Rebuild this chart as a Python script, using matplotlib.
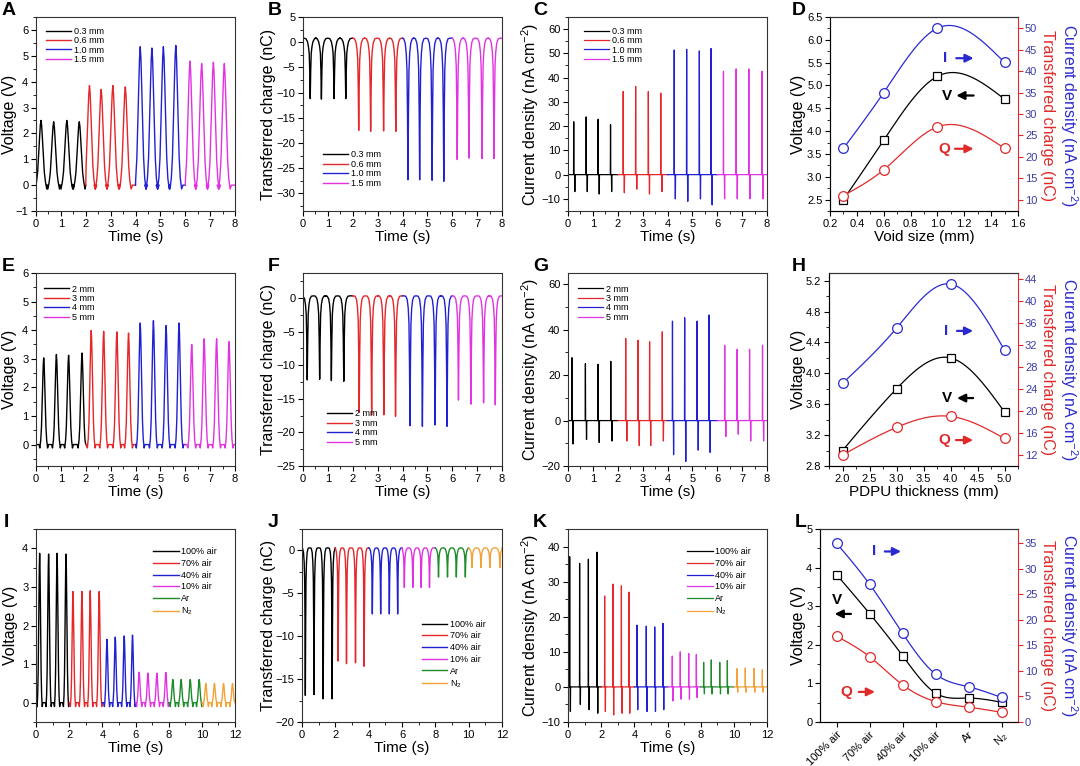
import numpy as np
import matplotlib
matplotlib.use("Agg")
import matplotlib.pyplot as plt
from matplotlib.ticker import MultipleLocator, AutoMinorLocator, FormatStrFormatter

# ---------------- data ----------------
void_labels = ["0.3 mm", "0.6 mm", "1.0 mm", "1.5 mm"]
thick_labels = ["2 mm", "3 mm", "4 mm", "5 mm"]
gas_labels = ["100% air", "70% air", "40% air", "10% air", "Ar", "N$_2$"]

# A: voltage peaks (time s, height V)
a_t = [[0.2, 0.71, 1.24, 1.74], [2.15, 2.62, 3.09, 3.59], [4.19, 4.66, 5.12, 5.62], [6.19, 6.66, 7.13, 7.57]]
a_v = [[2.5, 2.45, 2.5, 2.45], [3.85, 3.7, 3.85, 3.8], [5.35, 5.3, 5.35, 5.4], [4.8, 4.7, 4.75, 4.7]]
# B: transferred charge dips (nC)
b_t = [[0.29, 0.74, 1.25, 1.72], [2.24, 2.72, 3.24, 3.73], [4.22, 4.69, 5.19, 5.66], [6.2, 6.67, 7.2, 7.68]]
b_q = [[11.2, 11.3, 11.2, 11.2], [17.5, 17.7, 17.6, 17.7], [27.3, 27.3, 27.4, 27.6], [23.3, 23.0, 23.1, 23.1]]
# C: current density spikes (nA cm-2)
c_t = [[0.23, 0.73, 1.21, 1.71], [2.22, 2.72, 3.23, 3.73], [4.27, 4.77, 5.28, 5.75], [6.25, 6.76, 7.27, 7.8]]
c_pos = [[21.8, 23.8, 22.8, 20.6], [34.3, 36.4, 34.3, 33.6], [51.4, 51.7, 51.0, 52.0], [42.6, 43.6, 43.6, 42.6]]
c_neg = [[7, 7, 8, 7], [7.5, 6, 8, 7], [10, 11, 10, 12.5], [10, 10, 10, 10]]
# D
void_size = [0.3, 0.6, 1.0, 1.5]
d_voltage = [2.5, 3.8, 5.2, 4.7]
d_current = [22, 35, 50, 42]
d_charge = [11, 17, 27, 22]

# E
e_t = [[0.31, 0.82, 1.31, 1.85], [2.22, 2.72, 3.25, 3.72], [4.19, 4.72, 5.23, 5.75], [6.26, 6.76, 7.26, 7.76]]
e_v = [[3.03, 3.15, 3.12, 3.2], [3.99, 3.96, 3.94, 3.9], [4.25, 4.33, 4.16, 4.25], [3.5, 3.7, 3.7, 3.6]]
# F
f_t = [[0.17, 0.67, 1.14, 1.64], [2.26, 2.76, 3.25, 3.72], [4.3, 4.8, 5.31, 5.79], [6.25, 6.75, 7.26, 7.73]]
f_q = [[12.2, 12.1, 12.3, 12.4], [17.0, 17.4, 17.4, 17.6], [19.0, 19.1, 18.9, 19.1], [15.2, 15.8, 15.6, 15.9]]
# G
g_t = [[0.16, 0.7, 1.21, 1.72], [2.32, 2.82, 3.28, 3.79], [4.2, 4.69, 5.19, 5.67], [6.3, 6.8, 7.3, 7.82]]
g_pos = [[27.7, 25.1, 24.8, 26.1], [36.1, 35.4, 34.7, 39.1], [43.8, 45.3, 43.8, 46.5], [33.2, 31.4, 31.4, 33.2]]
g_neg = [[10.3, 8.3, 9.6, 9], [9, 11, 11, 9], [15, 18, 13, 14], [7, 6, 9, 9]]
# H
thickness = [2.0, 3.0, 4.0, 5.0]
h_voltage = [3.0, 3.8, 4.2, 3.5]
h_current = [25, 35, 43, 31]
h_charge = [12, 17, 19, 15]

# I
i_t = [[0.22, 0.76, 1.27, 1.81], [2.23, 2.77, 3.27, 3.81], [4.28, 4.78, 5.32, 5.82],
       [6.22, 6.75, 7.29, 7.83], [8.25, 8.75, 9.3, 9.84], [10.24, 10.76, 11.31, 11.85]]
i_v = [[3.87, 3.85, 3.87, 3.85], [2.88, 2.88, 2.9, 2.88], [1.64, 1.7, 1.73, 1.75],
       [0.79, 0.77, 0.76, 0.78], [0.6, 0.6, 0.6, 0.6], [0.5, 0.5, 0.5, 0.5]]
# J
j_t = [[0.2, 0.72, 1.27, 1.81], [2.17, 2.67, 3.21, 3.73], [4.22, 4.72, 5.24, 5.74],
       [6.14, 6.65, 7.15, 7.65], [8.19, 8.73, 9.26, 9.8], [10.2, 10.74, 11.27, 11.87]]
j_q = [[16.9, 16.8, 17.3, 17.3], [12.9, 13.2, 13.1, 13.5], [7.4, 7.4, 7.4, 7.4],
       [4.3, 4.3, 4.3, 4.3], [3.1, 3.1, 3.1, 3.1], [2.0, 2.0, 2.0, 2.0]]
# K
k_t = [[0.1, 0.7, 1.23, 1.75], [2.21, 2.71, 3.22, 3.68], [4.16, 4.72, 5.23, 5.73],
       [6.29, 6.77, 7.28, 7.74], [8.18, 8.64, 9.15, 9.61], [10.19, 10.69, 11.22, 11.72]]
k_pos = [[37.1, 35.2, 36.4, 38.4], [25.9, 29.3, 28.8, 27.0], [17.6, 17.3, 17.1, 18.1],
         [8.8, 10.0, 9.5, 9.2], [7.0, 7.7, 7.0, 7.5], [5.2, 5.4, 5.3, 4.9]]
k_neg = [[7, 5, 6.5, 7.5], [7, 8, 7.5, 7.5], [6.5, 7, 7, 6.5], [4, 3.5, 3.5, 3], [2, 2, 2, 2], [1.5, 1.5, 1.5, 1.5]]
# L
l_voltage = [3.82, 2.81, 1.72, 0.75, 0.62, 0.51]
l_current = [35, 27, 17.4, 9.4, 6.9, 4.8]
l_charge = [16.8, 12.8, 7.3, 4.0, 2.9, 1.9]

v_dt = [-1.6, -1.3, -1.0, -0.75, -0.5, -0.3, -0.15, 0, 0.15, 0.3, 0.5, 0.75, 1.0, 1.3, 1.6]
v_shape = [0, 0, 0.05, 0.2, 0.5, 0.75, 0.92, 1, 0.92, 0.75, 0.5, 0.2, 0.05, 0, 0]
v_dip = [0, -1, 0, 0, 0, 0, 0, 0, 0, 0, 0, 0, 0, -1, 0]
q_dt = [-0.25, -0.17, -0.11, -0.07, -0.04, -0.02, 0, 0.02, 0.04, 0.07, 0.11, 0.17, 0.25]
q_shape = [0, 0, 0.02, 0.08, 0.2, 0.5, 1, 0.5, 0.2, 0.08, 0.02, 0, 0]
q_arch = [1, 0.85, 0.4, 0, 0, 0, 0, 0, 0, 0, 0.4, 0.85, 1]
i_dt = [-0.04, -0.008, 0, 0.008, 0.025, 0.035, 0.045, 0.055, 0.08]
i_up = [0, 0, 1, 0, 0, 0, 0, 0, 0]
i_down = [0, 0, 0, 0, 0, 0, 1, 0, 0]

colors = ["black", "#e5262a", "#2121d2", "#e233e2", "#1e8c2a", "#f2a33a"]
blue = "#2a2ad0"
red = "#e02a2a"

W, H = 1080, 766
plt.rcParams["font.family"] = ["Liberation Sans", "DejaVu Sans"]
plt.rcParams["axes.linewidth"] = 0.8
plt.rcParams["mathtext.default"] = "regular"

fig = plt.figure(figsize=(W / 100, H / 100), dpi=100)


def rect(l, t, r, b):
    return [l / W, 1 - b / H, (r - l) / W, (b - t) / H]


def train(times, parts, t0, t1, dt, width):
    # parts: list of (amplitudes, shape) summed for every pulse
    xs, ys = [t0], [parts[-1][0][0] * parts[-1][1][0]]
    for k, t in enumerate(times):
        xs.extend(t + width * np.asarray(dt))
        y = np.zeros(len(dt))
        for amps, shape in parts:
            y = y + amps[k] * np.asarray(shape)
        ys.extend(y)
    xs.append(t1)
    ys.append(ys[0])
    xs, ys = np.asarray(xs), np.asarray(ys)
    keep = (xs >= t0) & (xs <= t1)
    return xs[keep], ys[keep]


def spline(x, y, n=120):
    x = np.asarray(x, float)
    y = np.asarray(y, float)
    m = len(x)
    h = np.diff(x)
    A = np.zeros((m, m))
    r = np.zeros(m)
    A[0, 0] = A[-1, -1] = 1
    for i in range(1, m - 1):
        A[i, i - 1], A[i, i], A[i, i + 1] = h[i - 1], 2 * (h[i - 1] + h[i]), h[i]
        r[i] = 3 * ((y[i + 1] - y[i]) / h[i] - (y[i] - y[i - 1]) / h[i - 1])
    c = np.linalg.solve(A, r)
    b = (y[1:] - y[:-1]) / h - h * (2 * c[:-1] + c[1:]) / 3
    d = (c[1:] - c[:-1]) / (3 * h)
    xs = np.linspace(x[0], x[-1], n)
    k = np.clip(np.searchsorted(x, xs) - 1, 0, m - 2)
    dx = xs - x[k]
    return xs, y[k] + b[k] * dx + c[k] * dx ** 2 + d[k] * dx ** 3


def style(ax, xlim, ylim, xmaj, ymaj, xlabel, ylabel, label_x):
    ax.set_xlim(*xlim)
    ax.set_ylim(*ylim)
    ax.xaxis.set_major_locator(MultipleLocator(xmaj))
    ax.yaxis.set_major_locator(MultipleLocator(ymaj))
    ax.xaxis.set_minor_locator(AutoMinorLocator(2))
    ax.yaxis.set_minor_locator(AutoMinorLocator(2))
    ax.tick_params(which="both", direction="out", top=False, right=False, labelsize=8, pad=2)
    ax.tick_params(which="major", length=3.5, width=0.8)
    ax.tick_params(which="minor", length=2, width=0.6)
    for s in ax.spines.values():
        s.set_color("#333333")
    ax.set_xlabel(xlabel, fontsize=11, labelpad=1)
    ax.set_ylabel(ylabel, fontsize=11.5, va="center")
    # label centre in figure pixels -> axes fraction
    l = ax.get_position().x0 * W
    w = ax.get_position().width * W
    ax.yaxis.set_label_coords((label_x - l) / w, 0.5)


def letter(x, y, s):
    fig.text(x / W, 1 - y / H, s, fontsize=14, fontweight="bold", va="top", ha="left")


def volt_panel(ax, times, peaks, labels, width, dip):
    for i, (tt, pp) in enumerate(zip(times, peaks)):
        dips = [dip] * len(tt)
        x, y = train(tt, [(pp, v_shape), (dips, v_dip)], 2 * i, 2 * i + 2, v_dt, width)
        ax.plot(x, y, color=colors[i], lw=1.0, label=labels[i])


def charge_panel(ax, times, depths, labels, hump):
    for i, (tt, dd) in enumerate(zip(times, depths)):
        neg = [-v for v in dd]
        humps = [hump] * len(tt)
        x, y = train(tt, [(neg, q_shape), (humps, q_arch)], 2 * i, 2 * i + 2, q_dt, 1.0)
        ax.plot(x, y, color=colors[i], lw=1.0, label=labels[i])


def current_panel(ax, times, ups, downs, labels):
    for i, tt in enumerate(times):
        neg = [-v for v in downs[i]]
        x, y = train(tt, [(ups[i], i_up), (neg, i_down)], 2 * i, 2 * i + 2, i_dt, 1.0)
        ax.plot(x, y, color=colors[i], lw=0.9, label=labels[i])


def legend(ax, loc, anchor, spacing):
    ax.legend(loc=loc, bbox_to_anchor=anchor, frameon=False, fontsize=6.5, handlelength=2.8,
              handletextpad=0.3, labelspacing=spacing, borderpad=0, borderaxespad=0)


def summary_panel(ax, x, volt, cur, chg, right_lim, right_step, fmt):
    ax2 = ax.twinx()
    xs, ys = spline(x, volt)
    ax.plot(xs, ys, color="black", lw=0.9)
    ax.plot(x, volt, "s", mfc="white", mec="black", ms=6, mew=0.9)
    xs, ys = spline(x, cur)
    ax2.plot(xs, ys, color=blue, lw=0.9)
    ax2.plot(x, cur, "o", mfc="white", mec=blue, ms=7, mew=0.9)
    xs, ys = spline(x, chg)
    ax2.plot(xs, ys, color=red, lw=0.9)
    ax2.plot(x, chg, "o", mfc="white", mec=red, ms=7, mew=0.9)
    ax2.set_ylim(*right_lim)
    ax2.yaxis.set_major_locator(MultipleLocator(right_step))
    ax2.tick_params(axis="y", colors=red, labelcolor="#3c3ca8", labelsize=8, length=3.5, pad=1.5)
    ax2.spines["right"].set_color(red)
    ax2.spines["top"].set_color("#333333")
    ax.spines["right"].set_visible(False)
    ax.yaxis.set_major_formatter(FormatStrFormatter(fmt))
    return ax2


def arrow(ax, y, x0, x1, color):
    ax.annotate("", xy=(x1, y), xytext=(x0, y),
                arrowprops=dict(arrowstyle="-|>", color=color, lw=1.6, mutation_scale=12))


def arrow_label(ax, s, xt, y, x0, x1, color):
    ax.text(xt, y, s, color=color, fontsize=11, fontweight="bold", ha="center", va="center")
    arrow(ax, y, x0, x1, color)


def right_labels(yc):
    fig.text(1069 / W, 1 - yc / H, "Current density (nA cm$^{-2}$)", color=blue, fontsize=11.5,
             rotation=270, ha="center", va="center")
    fig.text(1047 / W, 1 - yc / H, "Transferred charge (nC)", color=red, fontsize=11.5,
             rotation=270, ha="center", va="center")


# ---------------- row 1 ----------------
ax = fig.add_axes(rect(36, 17, 235, 211))
volt_panel(ax, a_t, a_v, void_labels, 0.18, 0.15)
style(ax, (0, 8), (-1, 6.5), 1, 1, "Time (s)", "Voltage (V)", 10)
legend(ax, "upper left", (0.05, 0.95), 0.05)
letter(2, 2, "A")

ax = fig.add_axes(rect(303, 17, 502, 211))
charge_panel(ax, b_t, b_q, void_labels, 0.8)
style(ax, (0, 8), (-33.5, 5), 1, 5, "Time (s)", "Transferred charge (nC)", 268)
legend(ax, "lower left", (0.1, 0.12), 0.05)
letter(268, 2, "B")

ax = fig.add_axes(rect(568, 17, 767, 211))
current_panel(ax, c_t, c_pos, c_neg, void_labels)
style(ax, (0, 8), (-15, 65), 1, 10, "Time (s)", "Current density (nA cm$^{-2}$)", 530)
legend(ax, "upper left", (0.08, 0.95), 0.05)
letter(533, 2, "C")

ax = fig.add_axes(rect(830, 17, 1018, 211))
style(ax, (0.2, 1.6), (2.25, 6.5), 0.2, 0.5, "Void size (mm)", "Voltage (V)", 798)
ax2 = summary_panel(ax, void_size, d_voltage, d_current, d_charge, (7.4, 52.6), 5, "%.1f")
arrow_label(ax2, "I", 1.06, 43, 1.12, 1.29, blue)
arrow_label(ax, "V", 1.07, 4.78, 1.29, 1.12, "black")
arrow_label(ax2, "Q", 1.05, 21.9, 1.11, 1.29, red)
right_labels(116)
letter(792, 2, "D")

# ---------------- row 2 ----------------
ax = fig.add_axes(rect(36, 273, 235, 466))
volt_panel(ax, e_t, e_v, thick_labels, 0.12, 0.12)
style(ax, (0, 8), (-0.75, 6), 1, 1, "Time (s)", "Voltage (V)", 10)
legend(ax, "upper left", (0.04, 0.94), 0.05)
letter(2, 258, "E")

ax = fig.add_axes(rect(303, 273, 502, 466))
charge_panel(ax, f_t, f_q, thick_labels, 0.3)
style(ax, (0, 8), (-25, 3.7), 1, 5, "Time (s)", "Transferred charge (nC)", 268)
legend(ax, "lower left", (0.12, 0.1), 0.05)
letter(268, 258, "F")

ax = fig.add_axes(rect(568, 273, 767, 466))
current_panel(ax, g_t, g_pos, g_neg, thick_labels)
style(ax, (0, 8), (-20, 65), 1, 20, "Time (s)", "Current density (nA cm$^{-2}$)", 530)
legend(ax, "upper left", (0.05, 0.94), 0.05)
letter(533, 258, "G")

ax = fig.add_axes(rect(829, 273, 1018, 466))
style(ax, (1.75, 5.25), (2.8, 5.3), 0.5, 0.4, "PDPU thickness (mm)", "Voltage (V)", 798)
ax2 = summary_panel(ax, thickness, h_voltage, h_current, h_charge, (10, 45), 4, "%.1f")
arrow_label(ax2, "I", 3.91, 34.5, 4.07, 4.47, blue)
arrow_label(ax, "V", 3.94, 3.68, 4.47, 4.07, "black")
arrow_label(ax2, "Q", 3.89, 14.7, 4.05, 4.47, red)
right_labels(370)
letter(792, 258, "H")

# ---------------- row 3 ----------------
ax = fig.add_axes(rect(36, 529, 235, 722))
volt_panel(ax, i_t, i_v, gas_labels, 0.12, 0.1)
style(ax, (0, 12), (-0.5, 4.5), 2, 1, "Time (s)", "Voltage (V)", 11)
legend(ax, "upper left", (0.59, 0.905), 0.3)
letter(4, 514, "I")

ax = fig.add_axes(rect(302, 529, 502, 722))
charge_panel(ax, j_t, j_q, gas_labels, 0.3)
style(ax, (0, 12), (-20, 2.5), 2, 5, "Time (s)", "Transferred charge (nC)", 268)
legend(ax, "upper left", (0.6, 0.53), 0.3)
letter(268, 514, "J")

ax = fig.add_axes(rect(568, 529, 767, 722))
current_panel(ax, k_t, k_pos, k_neg, gas_labels)
style(ax, (0, 12), (-10, 45), 2, 10, "Time (s)", "Current density (nA cm$^{-2}$)", 530)
legend(ax, "upper left", (0.6, 0.905), 0.3)
letter(533, 514, "K")

ax = fig.add_axes(rect(820, 529, 1018, 722))
pos = np.arange(len(gas_labels))
style(ax, (-0.5, 5.5), (0, 5), 1, 1, "", "Voltage (V)", 798)
ax2 = summary_panel(ax, pos, l_voltage, l_current, l_charge, (0, 37.8), 5, "%d")
ax.set_xticks(pos)
ax.set_xticklabels(gas_labels, rotation=45, ha="right", rotation_mode="anchor", fontsize=8)
ax.xaxis.set_minor_locator(plt.NullLocator())
arrow_label(ax2, "I", 1.13, 33.4, 1.38, 2.04, blue)
ax.text(0.0, 3.17, "V", color="black", fontsize=11, fontweight="bold", ha="center", va="center")
arrow(ax, 2.8, 0.52, -0.14, "black")
arrow_label(ax2, "Q", 0.31, 5.9, 0.59, 1.25, red)
right_labels(626)
letter(795, 514, "L")

fig.savefig("out.png", dpi=100)
